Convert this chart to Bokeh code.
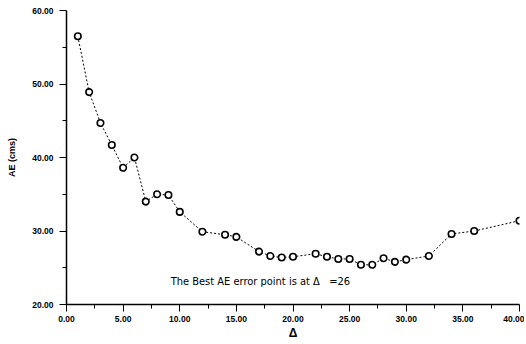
from bokeh.plotting import figure
from bokeh.models import Range1d, FixedTicker, NumeralTickFormatter, Label
from bokeh.embed import file_html
from bokeh.resources import INLINE

delta = [1, 2, 3, 4, 5, 6, 7, 8, 9, 10, 12, 14, 15, 17, 18, 19, 20, 22, 23, 24,
         25, 26, 27, 28, 29, 30, 32, 34, 36, 40]
ae = [56.5, 48.9, 44.7, 41.7, 38.6, 40.0, 34.0, 35.0, 34.9, 32.6, 29.9, 29.5, 29.2,
      27.2, 26.6, 26.4, 26.5, 26.9, 26.5, 26.2, 26.2, 25.4, 25.4, 26.3, 25.8, 26.1,
      26.6, 29.6, 30.0, 31.4]
x_ticks = [0, 5, 10, 15, 20, 25, 30, 35, 40]
y_ticks = [20, 30, 40, 50, 60]
note = "The Best AE error point is at \u0394\u00a0\u00a0\u00a0=26"

p = figure(width=524, height=342, output_backend="svg", toolbar_location=None,
           x_range=Range1d(0, 40), y_range=Range1d(20, 60),
           min_border_left=66, min_border_right=5, min_border_top=10,
           min_border_bottom=37)
p.outline_line_color = None
p.xgrid.visible = False
p.ygrid.visible = False
p.background_fill_color = "white"

p.line(delta, ae, line_color="black", line_width=1, line_dash="2 2")
p.scatter(delta, ae, marker="circle", size=6.5, fill_color="white",
          line_color="black", line_width=1.6)

for ax in (p.xaxis, p.yaxis):
    ax.axis_line_color = "black"
    ax.axis_line_width = 1.5
    ax.major_tick_line_color = "black"
    ax.minor_tick_line_color = "black"
    ax.major_tick_out = 7
    ax.major_tick_in = 0
    ax.minor_tick_out = 4
    ax.minor_tick_in = 0
    ax.major_label_text_font = "Liberation Sans"
    ax.major_label_text_font_style = "bold"
    ax.major_label_text_font_size = "8.5px"
    ax.major_label_text_color = "black"
    ax.formatter = NumeralTickFormatter(format="0.00")
    ax.axis_label_text_font = "Liberation Sans"
    ax.axis_label_text_font_style = "bold"
    ax.axis_label_text_font_size = "9px"
    ax.axis_label_text_color = "black"

p.xaxis.ticker = FixedTicker(ticks=x_ticks,
                             minor_ticks=[t + 2.5 for t in x_ticks[:-1]])
p.yaxis.ticker = FixedTicker(ticks=y_ticks,
                             minor_ticks=[t + 5 for t in y_ticks[:-1]])
p.xaxis.axis_label = "\u0394"
p.xaxis.axis_label_standoff = 1
p.xaxis.axis_label_text_font_size = "12px"
p.yaxis.axis_label = "AE (cms)"
p.yaxis.axis_label_standoff = 12
p.xaxis.major_label_standoff = 4
p.yaxis.major_label_standoff = 6

p.add_layout(Label(x=9.2, y=23.1, text=note,
                   text_font="DejaVu Sans Condensed",
                   text_font_size="11px", text_color="black",
                   text_baseline="middle", text_align="left"))

open("out.html", "w").write(file_html(p, INLINE))
